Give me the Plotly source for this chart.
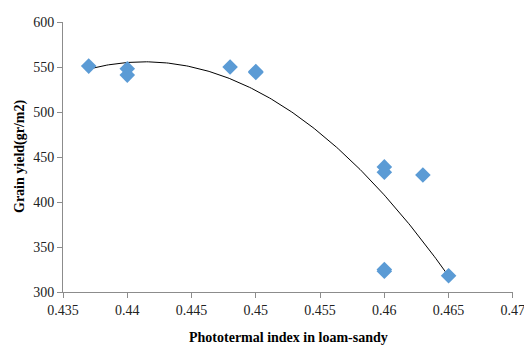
import numpy as np
import plotly.graph_objects as go

x_vals = [0.437, 0.44, 0.44, 0.448, 0.45, 0.45, 0.46, 0.46, 0.46, 0.46, 0.463, 0.465]
y_vals = [551, 548, 541, 550, 545, 544, 439, 433, 325, 323, 430, 318]
x_ticks = [0.435, 0.44, 0.445, 0.45, 0.455, 0.46, 0.465, 0.47]
x_tick_labels = ["0.435", "0.44", "0.445", "0.45", "0.455", "0.46", "0.465", "0.47"]
y_ticks = [300, 350, 400, 450, 500, 550, 600]

coef = np.polyfit(x_vals, y_vals, 2)
xt = np.linspace(min(x_vals), max(x_vals), 200)
yt = np.polyval(coef, xt)

fig = go.Figure()
fig.add_trace(go.Scatter(x=xt, y=yt, mode="lines",
                         line=dict(color="black", width=1), hoverinfo="skip"))
fig.add_trace(go.Scatter(x=x_vals, y=y_vals, mode="markers",
                         marker=dict(symbol="diamond", size=12, color="#5B9BD5")))

axis_font = dict(family="Liberation Serif", size=14, color="#222")
title_font = dict(family="Liberation Serif", size=14, color="black")
fig.update_layout(
    width=524, height=348,
    margin=dict(l=63, r=11, t=22, b=56),
    paper_bgcolor="white", plot_bgcolor="white",
    showlegend=False,
    xaxis=dict(range=[0.435, 0.47001], tickvals=x_ticks, ticktext=x_tick_labels,
               automargin=False, ticklabeloverflow="allow",
               showgrid=False, zeroline=False, showline=True, linecolor="#8c8c8c",
               ticks="outside", ticklen=5, tickcolor="#8c8c8c", tickfont=axis_font),
    yaxis=dict(range=[300, 600.01], tickvals=y_ticks, automargin=False,
               ticklabeloverflow="allow",
               showgrid=False, zeroline=False, showline=True, linecolor="#8c8c8c",
               ticks="outside", ticklen=5, tickcolor="#8c8c8c", tickfont=axis_font),
    annotations=[
        dict(text="<b>Phototermal index in loam-sandy</b>", xref="paper", yref="paper",
             x=0.5, y=-45/270, xanchor="center", yanchor="middle",
             showarrow=False, font=title_font),
        dict(text="<b>Grain yield(gr/m2)</b>", xref="paper", yref="paper",
             x=-43/450, y=0.5, xanchor="center", yanchor="middle", textangle=-90,
             showarrow=False, font=title_font),
    ],
)
fig.write_html("out.html", config={"displayModeBar": False},
               post_script="document.body.style.margin='0';document.body.style.overflow='hidden';")
